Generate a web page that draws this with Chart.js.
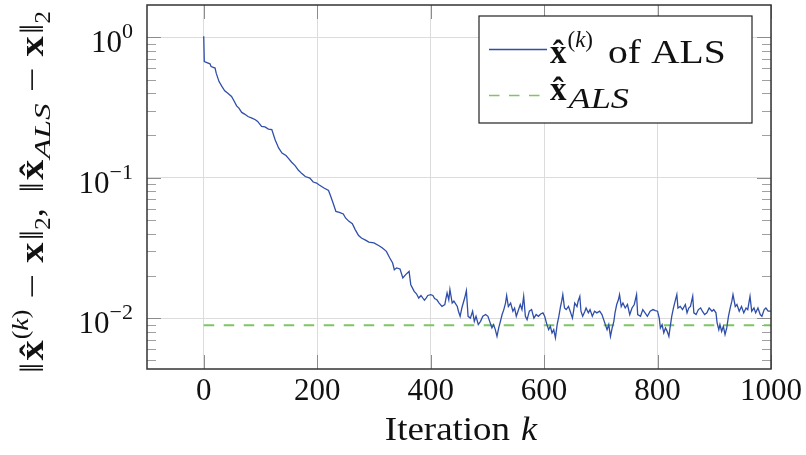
<!DOCTYPE html>
<html>
<head>
<meta charset="utf-8">
<script src="https://cdn.jsdelivr.net/npm/chart.js@4/dist/chart.umd.min.js"></script>
<style>
  html, body { margin: 0; padding: 0; background: #fff; }
  #wrap { width: 806px; height: 455px; }
</style>
</head>
<body>
<div id="wrap"><canvas id="chart" width="806" height="455"></canvas></div>
<script>
// iteration index k and error of the ALS iterate
const iterations = [
  0, 1, 11, 13, 20, 22, 27, 32, 37, 42, 49, 54, 58, 62, 67, 72, 78, 85, 91, 95,
  102, 108, 114, 120, 126, 132, 138, 145, 149, 155, 161, 167, 173, 179, 187, 193, 199,
  203, 212, 220, 224, 228, 233, 239, 246, 250, 256, 262, 267, 273, 278, 286, 291, 300,
  309, 315, 322, 328, 333, 336, 340, 346, 351, 356, 362, 365, 371, 375, 379, 383, 389, 392, 395,
  400, 404, 407, 411, 415, 420, 425, 427, 429, 432, 434, 438, 441, 447, 449, 452, 455, 460, 463, 466,
  470, 474, 477, 480, 484, 488, 492, 497, 501, 505, 508, 511, 514, 517, 520, 523, 526, 529, 532, 534,
  537, 541, 545, 548, 551, 554, 558, 561, 564, 567, 570, 574, 578, 582, 586, 590, 594, 598, 601, 605, 608,
  611, 614, 617, 620, 623, 626, 629, 631, 633, 636, 639, 643, 646, 650, 652, 654, 658, 660, 663, 665,
  668, 672, 674, 678, 681, 685, 689, 693, 698, 702, 705, 708, 711, 714, 717, 720, 723, 725, 728, 731,
  733, 736, 739, 743, 747, 751, 755, 759, 763, 765, 770, 774, 778, 782, 787, 792, 796, 800, 803,
  805, 808, 811, 814, 817, 820, 822, 825, 828, 831, 834, 836, 840, 844, 849, 852, 855, 858, 862, 864,
  868, 872, 876, 879, 883, 887, 891, 896, 899, 903, 905, 908, 910, 913, 916, 919, 922, 925, 928, 931,
  933, 937, 940, 944, 948, 952, 956, 959, 963, 966, 970, 973, 977, 981, 984, 988, 991, 995, 1000
];
const alsErrors = [
  1.02, 0.673, 0.648, 0.620, 0.604, 0.556, 0.484, 0.447, 0.416, 0.401, 0.379, 0.349, 0.325, 0.313, 0.292, 0.284, 0.273, 0.266, 0.259, 0.252,
  0.232, 0.230, 0.222, 0.220, 0.186, 0.163, 0.150, 0.144, 0.138, 0.129, 0.122, 0.113, 0.107, 0.102, 0.0995, 0.0932, 0.0917,
  0.0891, 0.0845, 0.0812, 0.0736, 0.0661, 0.0575, 0.0566, 0.0552, 0.0517, 0.0489, 0.0471, 0.0427, 0.0387, 0.0372, 0.0358, 0.0348, 0.0343,
  0.0328, 0.0316, 0.0299, 0.0268, 0.0247, 0.0221, 0.0228, 0.0224, 0.0193, 0.0204, 0.0215, 0.0173, 0.0155, 0.0149, 0.0139, 0.0145, 0.0134, 0.0139, 0.0145,
  0.0147, 0.0145, 0.0138, 0.0135, 0.0128, 0.0121, 0.0125, 0.0138, 0.0151, 0.0135, 0.0160, 0.0128, 0.0132, 0.0121, 0.0112, 0.0103, 0.0118, 0.0139, 0.0157, 0.0103,
  0.0100, 0.0112, 0.00948, 0.0103, 0.00899, 0.00948, 0.0103, 0.0106, 0.0103, 0.00925, 0.00851, 0.00899, 0.00828, 0.00741, 0.00851, 0.00948, 0.0106, 0.0115, 0.0128, 0.0145,
  0.0121, 0.0128, 0.0112, 0.0118, 0.0103, 0.0112, 0.0125, 0.0115, 0.0143, 0.0103, 0.00975, 0.0112, 0.0115, 0.0100, 0.0106, 0.0103, 0.0107, 0.0109, 0.0103, 0.00899, 0.00828,
  0.00875, 0.00785, 0.00828, 0.00723, 0.00899, 0.0103, 0.0121, 0.0132, 0.0147, 0.0118, 0.0115, 0.0121, 0.0112, 0.0100, 0.0112, 0.0128, 0.0121, 0.0132, 0.0143, 0.0112,
  0.0103, 0.0112, 0.0118, 0.0109, 0.0115, 0.0103, 0.0112, 0.0109, 0.0112, 0.0106, 0.00975, 0.00899, 0.00828, 0.00899, 0.00741, 0.00851, 0.00948, 0.0109, 0.0125, 0.0135,
  0.0147, 0.0121, 0.0128, 0.0118, 0.0125, 0.0106, 0.0118, 0.0125, 0.0147, 0.0106, 0.0103, 0.0115, 0.0109, 0.0103, 0.0112, 0.0115, 0.0113, 0.0112, 0.0100,
  0.00851, 0.00899, 0.00785, 0.00851, 0.00805, 0.00741, 0.00851, 0.0103, 0.0118, 0.0132, 0.0147, 0.0118, 0.0121, 0.0115, 0.0125, 0.0109, 0.0118, 0.0121, 0.0143, 0.0109,
  0.0106, 0.0115, 0.0118, 0.0112, 0.0106, 0.0109, 0.0118, 0.0112, 0.0115, 0.0109, 0.00925, 0.00828, 0.00899, 0.00805, 0.00875, 0.00764, 0.00851, 0.0103, 0.0118, 0.0132,
  0.0147, 0.0121, 0.0125, 0.0112, 0.0121, 0.0109, 0.0118, 0.0115, 0.0143, 0.0112, 0.0118, 0.0109, 0.0118, 0.0106, 0.0103, 0.0115, 0.0118, 0.0112, 0.0112
];
// reference level of the ALS solution (dashed line)
const refIterations = [0, 1000];
const refErrors = [0.0089, 0.0089];

// axis ticks
const xTicks = [0, 200, 400, 600, 800, 1000];
const yMajorTicks = [0.01, 0.1, 1];
const yTickExponents = ['\u22122', '\u22121', '0'];
const yMinorTicks = [0.005, 0.006, 0.007, 0.008, 0.009, 0.02, 0.03, 0.04, 0.05, 0.06, 0.07, 0.08, 0.09,
                     0.2, 0.3, 0.4, 0.5, 0.6, 0.7, 0.8, 0.9];

const FAM = '"Liberation Serif", "DejaVu Serif", serif';
const f = (size, style) => `${style ? style + ' ' : ''}${size}px ${FAM}`;
const BLUE = '#2f4ea9', GREEN = '#7cc664';

// draw a run of text pieces; {hat:true} puts a circumflex over the previous piece,
// sx widens a piece, pre/k add space before/after it
function drawRich(ctx, parts, x, y, measureOnly) {
  let cx = x, last = null;
  parts.forEach(p => {
    if (p.hat) {
      if (!measureOnly && last) {
        ctx.font = last.f;
        const hw = ctx.measureText('\u02c6').width;
        ctx.fillText('\u02c6', last.x + last.w / 2 - hw / 2, y + (p.dy || 0));
      }
      return;
    }
    cx += p.pre || 0;
    ctx.font = p.f;
    const sx = p.sx || 1;
    const w = ctx.measureText(p.t).width * sx;
    if (!measureOnly) {
      ctx.save();
      ctx.translate(cx, y + (p.dy || 0));
      ctx.scale(sx, 1);
      ctx.fillText(p.t, 0, 0);
      ctx.restore();
    }
    last = { x: cx, w: w, f: p.f };
    cx += w + (p.k || 0);
  });
  return cx - x;
}

const T = 33, t = 23;
const yTitle = [
  { t: '\u2016', f: f(T) }, { t: 'x', f: f(T, 'bold'), pre: 2, sx: 1.1 }, { hat: true, dy: 1 },
  { t: '(', f: f(t), dy: -15, pre: 1 }, { t: 'k', f: f(t, 'italic'), dy: -15, sx: 1.1 }, { t: ')', f: f(t), dy: -15 },
  { t: '\u2212', f: f(T), pre: 10, k: 10, sx: 1.2 }, { t: 'x', f: f(T, 'bold'), sx: 1.1 }, { t: '\u2016', f: f(T), pre: 2 },
  { t: '2', f: f(t), dy: 7 },
  { t: ',', f: f(T), k: 14 }, { t: '\u2016', f: f(T) }, { t: 'x', f: f(T, 'bold'), pre: 2, sx: 1.1 }, { hat: true, dy: 1 },
  { t: 'ALS', f: f(t, 'italic'), dy: 7, pre: 1, sx: 1.3 }, { t: '\u2212', f: f(T), pre: 10, k: 10, sx: 1.2 },
  { t: 'x', f: f(T, 'bold'), sx: 1.1 }, { t: '\u2016', f: f(T), pre: 2 }, { t: '2', f: f(t), dy: 7 }
];
const xTitle = [{ t: 'Iteration', f: f(T), sx: 1.12 }, { t: 'k', f: f(T, 'italic'), pre: 11, sx: 1.1 }];
const legendRows = [
  [{ t: 'x', f: f(T, 'bold') }, { hat: true, dy: 1 }, { t: '(', f: f(t), dy: -16, pre: 1 },
   { t: 'k', f: f(t, 'italic'), dy: -16 }, { t: ')', f: f(t), dy: -16 },
   { t: 'of ALS', f: f(T), pre: 15, sx: 1.2 }],
  [{ t: 'x', f: f(T, 'bold') }, { hat: true, dy: 1 }, { t: 'ALS', f: f(29, 'italic'), dy: 8, pre: 2, sx: 1.25 }]
];

const decorations = {
  id: 'decorations',
  afterDatasetsDraw(chart) {
    const { ctx, chartArea: a, scales: { x, y } } = chart;
    ctx.save();
    ctx.lineWidth = 1;
    ctx.strokeStyle = '#a0a0a0';
    ctx.beginPath();
    yMinorTicks.forEach(v => {
      const p = Math.round(y.getPixelForValue(v)) + 0.5;
      ctx.moveTo(a.left, p); ctx.lineTo(a.left + 9, p);
      ctx.moveTo(a.right, p); ctx.lineTo(a.right - 9, p);
    });
    ctx.stroke();
    ctx.strokeStyle = '#8c8c8c';
    ctx.beginPath();
    yMajorTicks.forEach(v => {
      const p = Math.round(y.getPixelForValue(v)) + 0.5;
      ctx.moveTo(a.left, p); ctx.lineTo(a.left + 14, p);
      ctx.moveTo(a.right, p); ctx.lineTo(a.right - 14, p);
    });
    xTicks.forEach(v => {
      const p = Math.round(x.getPixelForValue(v)) + 0.5;
      ctx.moveTo(p, a.bottom); ctx.lineTo(p, a.bottom - 14);
      ctx.moveTo(p, a.top); ctx.lineTo(p, a.top + 14);
    });
    ctx.stroke();
    ctx.strokeStyle = '#333';
    ctx.lineWidth = 1.5;
    ctx.strokeRect(a.left, a.top, a.right - a.left, a.bottom - a.top);
    ctx.restore();
  },
  afterDraw(chart) {
    const { ctx, chartArea: a, scales: { y } } = chart;
    ctx.save();
    ctx.fillStyle = '#111';
    ctx.textBaseline = 'alphabetic';
    ctx.textAlign = 'left';

    // y tick labels 10^n
    yMajorTicks.forEach((v, i) => {
      const py = y.getPixelForValue(v);
      const parts = [{ t: '10', f: f(31) }, { t: yTickExponents[i], f: f(22), dy: -14 }];
      const w = drawRich(ctx, parts, 0, 0, true);
      drawRich(ctx, parts, 133 - w, py + 15);
    });

    // x axis title
    const xw = drawRich(ctx, xTitle, 0, 0, true);
    drawRich(ctx, xTitle, 461 - xw / 2, 440);

    // y axis title (rotated), stretched to the length it has in the original
    const yw = drawRich(ctx, yTitle, 0, 0, true);
    const fit = 362 / yw;
    ctx.save();
    ctx.translate(43, 192);
    ctx.rotate(-Math.PI / 2);
    ctx.scale(fit, 1);
    drawRich(ctx, yTitle, -yw / 2, 0);
    ctx.restore();

    // legend box
    const lx = 479, ly = 16, lw = 273, lh = 107;
    ctx.fillStyle = '#fff';
    ctx.fillRect(lx, ly, lw, lh);
    ctx.strokeStyle = '#222';
    ctx.lineWidth = 1.2;
    ctx.strokeRect(lx, ly, lw, lh);
    ctx.lineWidth = 1.3;
    ctx.strokeStyle = BLUE;
    ctx.beginPath(); ctx.moveTo(489, 49.5); ctx.lineTo(547, 49.5); ctx.stroke();
    ctx.lineWidth = 1.6;
    ctx.strokeStyle = GREEN;
    ctx.setLineDash([10.5, 9.5]);
    ctx.beginPath(); ctx.moveTo(489, 95.5); ctx.lineTo(547, 95.5); ctx.stroke();
    ctx.setLineDash([]);
    ctx.fillStyle = '#111';
    drawRich(ctx, legendRows[0], 550, 63);
    drawRich(ctx, legendRows[1], 550, 100);
    ctx.restore();
  }
};

new Chart(document.getElementById('chart'), {
  type: 'line',
  data: {
    datasets: [
      {
        label: 'x(k) of ALS',
        data: iterations.map((k, i) => ({ x: k, y: alsErrors[i] })),
        borderColor: BLUE,
        borderWidth: 1.3,
        pointRadius: 0,
        tension: 0,
        fill: false
      },
      {
        label: 'x ALS',
        data: refIterations.map((k, i) => ({ x: k, y: refErrors[i] })),
        borderColor: GREEN,
        borderWidth: 2,
        borderDash: [10.5, 9.5],
        pointRadius: 0,
        tension: 0,
        fill: false
      }
    ]
  },
  options: {
    responsive: false,
    animation: false,
    devicePixelRatio: 1,
    layout: { padding: { left: 0, right: 35, top: 5, bottom: 0 } },
    plugins: { legend: { display: false }, tooltip: { enabled: false } },
    scales: {
      x: {
        type: 'linear',
        min: -100,
        max: 1000,
        afterBuildTicks: s => { s.ticks = xTicks.map(v => ({ value: v })); },
        afterFit: s => { s.height = 86; },
        grid: { color: '#dcdcdc', lineWidth: 1, drawTicks: false },
        border: { display: false },
        ticks: {
          padding: 4,
          color: '#111',
          font: { family: FAM, size: 31 },
          maxRotation: 0,
          callback: v => String(v)
        }
      },
      y: {
        type: 'logarithmic',
        min: 0.00434,
        max: 1.7,
        afterBuildTicks: s => { s.ticks = yMajorTicks.map(v => ({ value: v })); },
        afterFit: s => { s.width = 147; },
        grid: { color: '#dcdcdc', lineWidth: 1, drawTicks: false },
        border: { display: false },
        ticks: { display: false }
      }
    }
  },
  plugins: [decorations]
});
</script>
</body>
</html>
